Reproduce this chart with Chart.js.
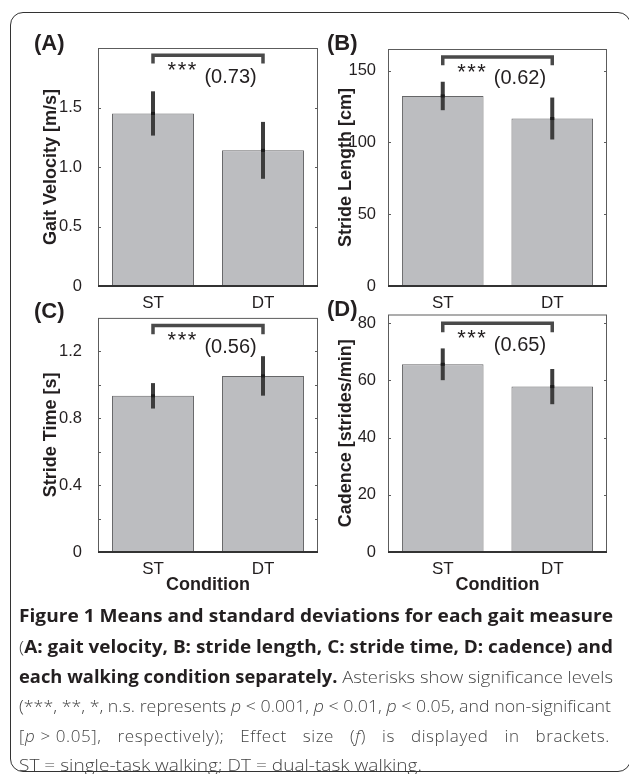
<!DOCTYPE html>
<html lang="en">
<head>
<meta charset="UTF-8">
<title>Figure 1 - gait measures</title>
<script src="https://cdn.jsdelivr.net/npm/chart.js"></script>
<style>
    html, body { margin: 0; padding: 0; background: #fff; }
    body { width: 629px; height: 774px; position: relative; overflow: hidden; }
    .frame {
        position: absolute; left: 10px; top: 12px; width: 621px; height: 760px;
        border: 1.5px solid #333; border-radius: 13px; box-sizing: border-box;
    }
    canvas { position: absolute; }
    .panel-label {
        position: absolute; font: bold 22px "Liberation Sans", Arial, sans-serif;
        color: #231f20; line-height: 22px;
    }
    .cap {
        position: absolute; left: 19px; white-space: nowrap; transform-origin: 0 50%;
        font-family: "Open Sans", "Noto Sans", sans-serif; font-size: 17px; line-height: 20px;
        color: #444; font-weight: 300;
    }
    .cap b { font-weight: 700; color: #231f20; }
    .cap .tight { word-spacing: 0; }
</style>
</head>
<body>
<div class="frame"></div>

<canvas id="chartA" width="322" height="312" style="left:0;top:0"></canvas>
<canvas id="chartB" width="307" height="312" style="left:322px;top:0"></canvas>
<canvas id="chartC" width="322" height="310" style="left:0;top:300px"></canvas>
<canvas id="chartD" width="307" height="310" style="left:322px;top:300px"></canvas>

<div class="panel-label" style="left:34px;top:32px">(A)</div>
<div class="panel-label" style="left:327px;top:32px">(B)</div>
<div class="panel-label" style="left:34px;top:300px">(C)</div>
<div class="panel-label" style="left:327px;top:298px">(D)</div>

<div class="cap" data-w="594" style="top:606px"><b>Figure 1 Means and standard deviations for each gait measure</b></div>
<div class="cap" data-w="594" style="top:637px">(<b>A: gait velocity, B: stride length, C: stride time, D: cadence) and</b></div>
<div class="cap" data-w="594" style="top:667px"><b>each walking condition separately.</b> Asterisks show significance levels</div>
<div class="cap" data-w="592" style="top:696px">(***, **, *, n.s. represents <i>p</i>&nbsp;&lt;&nbsp;0.001, <i>p</i>&nbsp;&lt;&nbsp;0.01, <i>p</i>&nbsp;&lt;&nbsp;0.05, and non-significant</div>
<div class="cap" data-w="591" data-justify="1" style="top:726px;letter-spacing:0.6px"><span class="tight">[<i>p</i>&nbsp;&gt;&nbsp;0.05],</span> respectively); Effect size (<i>f</i>) is displayed in brackets.</div>
<div class="cap" data-w="403" style="top:755px">ST&nbsp;=&nbsp;single-task walking; DT&nbsp;=&nbsp;dual-task walking.</div>

<script>
    // conditions
    const conditions = ['ST', 'DT'];

    // means and standard deviations
    const velocityMean = [1.45, 1.14];
    const velocitySd = [0.186, 0.239];
    const strideLengthMean = [132.3, 116.6];
    const strideLengthSd = [9.9, 14.6];
    const strideTimeMean = [0.934, 1.053];
    const strideTimeSd = [0.076, 0.118];
    const cadenceMean = [65.6, 57.8];
    const cadenceSd = [5.55, 6.15];

    // significance brackets: [top, bottom of end ticks] in data units
    const velocityBracket = [1.94, 1.87];
    const strideLengthBracket = [159.5, 153.7];
    const strideTimeBracket = [1.355, 1.302];
    const cadenceBracket = [79.9, 76.8];

    const significance = ['***', '***', '***', '***'];
    const effectSizes = ['0.73', '0.62', '0.56', '0.65'];

    // axis ranges: [max, tick step, label every]
    const velocityAxis = [2.0, 0.5, 0.5];
    const strideLengthAxis = [165, 50, 50];
    const strideTimeAxis = [1.4, 0.2, 0.4];
    const cadenceAxis = [83, 20, 20];

    const FONT = '"Liberation Sans", Arial, sans-serif';
    const INK = '#231f20';

    function isMultiple(v, step) {
        const r = v / step;
        return Math.abs(r - Math.round(r)) < 1e-6;
    }

    // error bars, frame, inward ticks, bracket and effect size text
    const gaitExtras = {
        id: 'gaitExtras',
        afterDatasetsDraw(chart, args, opts) {
            const { ctx, chartArea: a } = chart;
            const y = chart.scales.y;
            const bars = chart.getDatasetMeta(0).data;
            const means = chart.data.datasets[0].data;
            ctx.save();

            // error bars
            bars.forEach((b, i) => {
                ctx.strokeStyle = '#3d3d3d';
                ctx.lineWidth = 4;
                ctx.beginPath();
                ctx.moveTo(b.x, y.getPixelForValue(means[i] - opts.sd[i]));
                ctx.lineTo(b.x, y.getPixelForValue(means[i] + opts.sd[i]));
                ctx.stroke();
                ctx.fillStyle = '#1c1c1c';
                ctx.fillRect(b.x - 2, y.getPixelForValue(means[i]) - 1.5, 4, 3);
            });

            // plot box
            ctx.strokeStyle = '#5c5c5c';
            ctx.lineWidth = 1;
            ctx.strokeRect(a.left + 0.5, a.top + 0.5, a.right - a.left - 1, a.bottom - a.top);
            ctx.strokeStyle = '#333';
            ctx.lineWidth = 2;
            ctx.beginPath();
            ctx.moveTo(a.left, a.bottom);
            ctx.lineTo(a.right, a.bottom);
            ctx.stroke();

            // inward ticks on both sides
            ctx.strokeStyle = '#5c5c5c';
            ctx.lineWidth = 1;
            y.ticks.forEach(t => {
                if (t.value <= y.min || t.value >= y.max) return;
                const py = Math.round(y.getPixelForValue(t.value)) + 0.5;
                ctx.beginPath();
                ctx.moveTo(a.left, py); ctx.lineTo(a.left + 3, py);
                ctx.moveTo(a.right - 3, py); ctx.lineTo(a.right, py);
                ctx.stroke();
            });

            // significance bracket
            const x1 = bars[0].x, x2 = bars[1].x;
            const yt = y.getPixelForValue(opts.bracket[0]);
            const yb = y.getPixelForValue(opts.bracket[1]);
            ctx.strokeStyle = '#4a4a4a';
            ctx.lineWidth = 3.5;
            ctx.lineJoin = 'miter';
            ctx.beginPath();
            ctx.moveTo(x1, yb); ctx.lineTo(x1, yt); ctx.lineTo(x2, yt); ctx.lineTo(x2, yb);
            ctx.stroke();

            const span = x2 - x1;
            ctx.fillStyle = INK;
            ctx.textAlign = 'center';
            ctx.font = '22px ' + FONT;
            ctx.letterSpacing = '1.5px';
            ctx.textBaseline = 'top';
            ctx.fillText(opts.stars, x1 + span * 0.27, yt + 5);
            ctx.letterSpacing = '0px';
            ctx.font = '20px ' + FONT;
            ctx.textBaseline = 'middle';
            ctx.fillText('(' + opts.effect + ')', x1 + span * 0.705, yt + 22);
            ctx.restore();
        }
    };

    function makePanel(id, yTitle, means, sds, axis, bracket, stars, effect, box) {
        const [yMax, step, labelEvery] = axis;
        return new Chart(document.getElementById(id), {
            type: 'bar',
            data: {
                labels: conditions,
                datasets: [{
                    data: means,
                    backgroundColor: '#bcbdc0',
                    borderColor: '#666668',
                    borderWidth: 1,
                    borderSkipped: false,
                    barPercentage: 0.745,
                    categoryPercentage: 1.0
                }]
            },
            options: {
                responsive: false,
                animation: false,
                layout: { padding: { top: box.top, right: box.right, left: 0, bottom: 0 } },
                plugins: {
                    legend: { display: false },
                    tooltip: { enabled: false },
                    gaitExtras: { sd: sds, bracket: bracket, stars: stars, effect: effect }
                },
                scales: {
                    x: {
                        offset: true,
                        grid: { display: false },
                        border: { display: false },
                        ticks: { color: INK, font: { family: FONT, size: 17 }, padding: -1 },
                        title: {
                            display: box.xTitle,
                            text: 'Condition',
                            color: INK,
                            font: { family: FONT, size: 18, weight: 'bold' },
                            padding: { top: 0, bottom: 14 }
                        },
                        afterFit: s => { s.height = box.xHeight; }
                    },
                    y: {
                        min: 0,
                        max: yMax,
                        grid: { display: false },
                        border: { display: false },
                        afterBuildTicks: s => {
                            const ticks = [];
                            for (let k = 0; k * step <= yMax + 1e-9; k++) ticks.push({ value: k * step });
                            s.ticks = ticks;
                        },
                        ticks: {
                            color: INK,
                            padding: box.tickPad,
                            font: { family: FONT, size: 16.5 },
                            callback: v => {
                                if (v >= yMax - 1e-9 || !isMultiple(v, labelEvery)) return '';
                                if (v === 0) return '0';
                                return Number.isInteger(labelEvery) ? String(Math.round(v)) : v.toFixed(1);
                            }
                        },
                        title: {
                            display: true,
                            text: yTitle,
                            color: INK,
                            font: { family: FONT, size: 18, weight: 'bold' },
                            padding: { top: box.titlePad, bottom: 0 }
                        },
                        afterFit: s => { s.width = box.yWidth; }
                    }
                }
            },
            plugins: [gaitExtras]
        });
    }

    makePanel('chartA', 'Gait Velocity [m/s]', velocityMean, velocitySd, velocityAxis,
        velocityBracket, significance[0], effectSizes[0],
        { top: 48, right: 4, yWidth: 98, xHeight: 26, tickPad: 8, titlePad: 40, xTitle: false });
    makePanel('chartB', 'Stride Length [cm]', strideLengthMean, strideLengthSd, strideLengthAxis,
        strideLengthBracket, significance[1], effectSizes[1],
        { top: 49, right: 22, yWidth: 66, xHeight: 26, tickPad: 4, titlePad: 13, xTitle: false });
    makePanel('chartC', 'Stride Time [s]', strideTimeMean, strideTimeSd, strideTimeAxis,
        strideTimeBracket, significance[2], effectSizes[2],
        { top: 15, right: 4, yWidth: 98, xHeight: 58, tickPad: 8, titlePad: 40, xTitle: true });
    makePanel('chartD', 'Cadence [strides/min]', cadenceMean, cadenceSd, cadenceAxis,
        cadenceBracket, significance[3], effectSizes[3],
        { top: 14.5, right: 22, yWidth: 66, xHeight: 58, tickPad: 4, titlePad: 13, xTitle: true });

    // fit caption lines to the column width
    function fitCaption() {
        document.querySelectorAll('.cap').forEach(el => {
            const target = +el.dataset.w;
            el.style.transform = 'none';
            el.style.wordSpacing = '0px';
            const w = el.getBoundingClientRect().width;
            if (el.dataset.justify && w < target) {
                let gaps = 0;
                el.childNodes.forEach(n => {
                    if (n.nodeType === 3) gaps += (n.textContent.match(/ /g) || []).length;
                });
                el.style.wordSpacing = ((target - w) / gaps) + 'px';
            } else {
                el.style.transform = 'scaleX(' + (target / w) + ')';
            }
        });
    }
    fitCaption();
    if (document.fonts && document.fonts.ready) document.fonts.ready.then(fitCaption);
</script>
</body>
</html>
